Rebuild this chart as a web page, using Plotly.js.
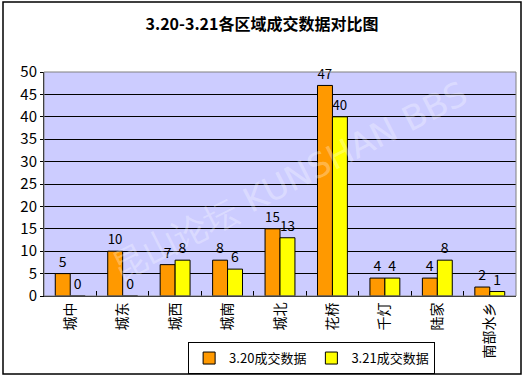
<!DOCTYPE html>
<html>
<head>
<meta charset="utf-8">
<script src="https://cdn.plot.ly/plotly-3.0.1.min.js"></script>
<style>
html,body{margin:0;padding:0;background:#fff;}
#chart{width:524px;height:378px;}
</style>
</head>
<body>
<div id="chart"></div>
<script>
const categories = ["城中","城东","城西","城南","城北","花桥","千灯","陆家","南部水乡"];
const series320 = [5,10,7,8,15,47,4,4,2];
const series321 = [0,0,8,6,13,40,4,8,1];
const seriesNames = ["3.20成交数据","3.21成交数据"];
const yTicks = [0,5,10,15,20,25,30,35,40,45,50];

const font = "SimSun, 'Noto Sans CJK SC', sans-serif";

const traces = [
  {type:"bar", name:seriesNames[0], x:categories, y:series320,
   marker:{color:"#FF9900", line:{color:"#000", width:1}},
   text:series320.map(String), textposition:"outside", cliponaxis:false,
   textfont:{family:font, size:14, color:"#000"}},
  {type:"bar", name:seriesNames[1], x:categories, y:series321,
   marker:{color:"#FFFF00", line:{color:"#000", width:1}},
   text:series321.map(String), textposition:"outside", cliponaxis:false,
   textfont:{family:font, size:14, color:"#000"}}
];

const layout = {
  width:524, height:378,
  margin:{l:44, r:8, t:72, b:82, autoexpand:false},
  paper_bgcolor:"#fff",
  plot_bgcolor:"#CCCCFF",
  font:{family:font, size:14, color:"#000"},
  title:{text:"<b>3.20-3.21各区域成交数据对比图</b>", x:0.5, xref:"container", y:0.935, yref:"container", yanchor:"middle",
         font:{family:font, size:16, color:"#000"}},
  barmode:"group", bargap:0.43, bargroupgap:0,
  xaxis:{type:"category", tickangle:-90, showgrid:false, showline:true, linecolor:"#000", linewidth:1,
         ticks:"inside", ticklen:5, tickcolor:"#000", tickson:"boundaries", automargin:false,
         tickfont:{family:font, size:14, color:"#000"}},
  yaxis:{range:[0,50], tickvals:yTicks, ticktext:yTicks.map(String), showgrid:true, gridcolor:"#000", gridwidth:1,
         showline:true, linecolor:"#000", linewidth:1, zeroline:false, ticks:"outside", ticklen:3, tickcolor:"#000",
         automargin:false, tickfont:{family:font, size:15, color:"#000"}},
  showlegend:true,
  legend:{orientation:"h", xref:"container", yref:"container", x:0.359, xanchor:"left", y:0.095, yanchor:"top",
          bordercolor:"#000", borderwidth:1, bgcolor:"#fff", itemwidth:30, tracegroupgap:0,
          font:{family:font, size:13, color:"#000"}, traceorder:"normal"},
  annotations:[
    {text:"昆山论坛 KUNSHAN BBS", xref:"paper", yref:"paper", x:0.52, y:0.52, showarrow:false,
     textangle:-27, font:{family:"DejaVu Sans", size:34, color:"rgba(255,255,255,0.3)"}}
  ],
  shapes:[
    {type:"rect", xref:"paper", yref:"paper", x0:0, x1:1, y0:0, y1:1, line:{color:"#808080", width:1}},
    {type:"rect", xref:"paper", yref:"paper",
     x0:(3-44)/472, x1:(521-44)/472, y0:(296-374)/224, y1:(296-2)/224,
     line:{color:"#000", width:1.5}, fillcolor:"rgba(0,0,0,0)"}
  ]
};

Plotly.newPlot("chart", traces, layout, {staticPlot:true, displayModeBar:false});
</script>
</body>
</html>
